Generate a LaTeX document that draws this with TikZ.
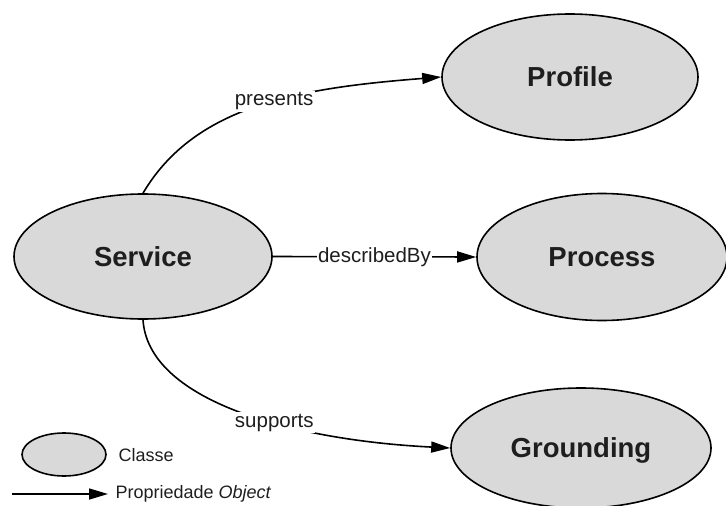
\documentclass[tikz,border=0pt]{standalone}
\usepackage{fontspec}
\setmainfont{Liberation Sans}
\usetikzlibrary{shapes.geometric,arrows.meta}
\definecolor{classfill}{HTML}{D9D9D9}
\definecolor{inkgray}{HTML}{1E1E1E}
\begin{document}
\begin{tikzpicture}[x=1pt,y=-1pt,
  classnode/.style={ellipse, draw=black, line width=1.6pt, fill=classfill,
    inner sep=0pt, text depth=0pt,
    font=\fontsize{27.5}{30}\selectfont\bfseries, text=inkgray},
  relation/.style={line width=1.6pt, -{Triangle[length=19pt,width=11pt]}},
  rellabel/.style={fill=white, inner sep=1.5pt,
    font=\fontsize{20.5}{22}\selectfont, text=inkgray},
  legendtext/.style={font=\fontsize{18}{20}\selectfont, text=inkgray, anchor=west}]
\useasboundingbox (0,0) rectangle (726,506);

% classes
\node[classnode, minimum width=258pt, minimum height=125pt] (service) at (143,256.5) {Service};
\node[classnode, minimum width=256pt, minimum height=126pt] (profile) at (570,77) {Profile};
\node[classnode, minimum width=250pt, minimum height=127pt] (process) at (602,257) {Process};
\node[classnode, minimum width=260pt, minimum height=120pt] (grounding) at (581,448) {Grounding};

% object properties
\draw[relation] (service.north) .. controls (195,105) and (300,88) ..
  node[rellabel, pos=0.55] {presents} (profile.west);
\draw[relation] (service.east) -- node[rellabel] {describedBy} (process.west);
\draw[relation] (service.south) .. controls (148,400) and (290,440) ..
  node[rellabel, pos=0.6] {supports} (grounding.west);

% legend
\node[ellipse, draw=black, line width=1.6pt, fill=classfill, inner sep=0pt,
  minimum width=84pt, minimum height=43pt] (legclass) at (64,454.5) {};
\node[legendtext] (legclasstext) at (115,455) {Classe};
\coordinate (legfrom) at (12,494);
\coordinate (legto) at (108,494);
\draw[relation] (legfrom) -- (legto);
\node[legendtext] (legreltext) at (112,494) {Propriedade \textit{Object}};
\end{tikzpicture}
\end{document}
